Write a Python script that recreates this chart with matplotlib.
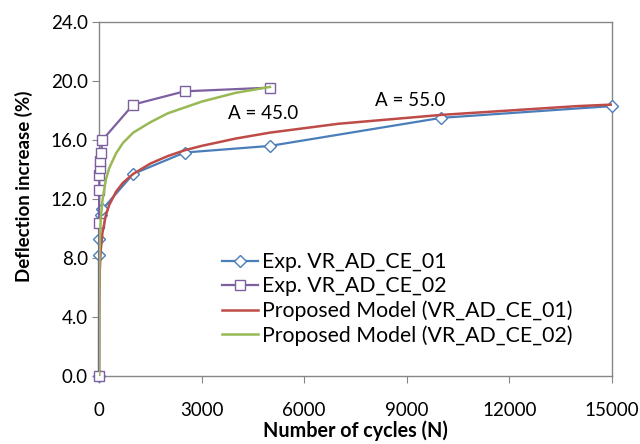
import matplotlib
matplotlib.use("Agg")
import matplotlib.pyplot as plt

# Experimental data
n_exp1 = [0, 1, 10, 50, 100, 1000, 2500, 5000, 10000, 15000]
d_exp1 = [0.0, 8.2, 9.3, 10.9, 11.3, 13.7, 15.15, 15.6, 17.5, 18.3]

n_exp2 = [0, 1, 5, 10, 20, 40, 60, 100, 1000, 2500, 5000]
d_exp2 = [0.0, 10.4, 12.6, 13.6, 14.1, 14.6, 15.1, 16.0, 18.4, 19.3, 19.55]

# Proposed model curves
n_mod1 = [0, 3, 10, 25, 50, 100, 200, 300, 500, 700, 1000, 1500, 2000, 2500, 3000,
          4000, 5000, 6000, 7000, 8000, 9000, 10000, 11000, 12000, 13000, 14000, 15000]
d_mod1 = [0.0, 3.6, 5.7, 7.3, 8.5, 9.7, 10.9, 11.6, 12.5, 13.1, 13.7, 14.4, 14.9, 15.3, 15.6,
          16.1, 16.5, 16.8, 17.1, 17.3, 17.5, 17.7, 17.85, 18.0, 18.15, 18.3, 18.4]

n_mod2 = [0, 3, 10, 25, 50, 100, 200, 300, 500, 700, 1000, 1500, 2000, 2500, 3000,
          3500, 4000, 4500, 5000]
d_mod2 = [0.0, 5.0, 7.4, 9.2, 10.6, 11.9, 13.3, 14.1, 15.1, 15.8, 16.5, 17.2, 17.8, 18.2, 18.6,
          18.9, 19.2, 19.4, 19.6]

labels = ["Exp. VR_AD_CE_01", "Exp. VR_AD_CE_02",
          "Proposed Model (VR_AD_CE_01)", "Proposed Model (VR_AD_CE_02)"]
x_ticks = [0, 3000, 6000, 9000, 12000, 15000]
y_ticks = [0, 4, 8, 12, 16, 20, 24]

plt.rcParams['font.family'] = ['Lato', 'DejaVu Sans']

fig = plt.figure(figsize=(6.4, 4.44), dpi=100)
ax = fig.add_axes([99/640, 1-376/444, (612-99)/640, (376-22)/444])

blue = '#4A7EBB'
purple = '#7D60A0'
red = '#BE4B48'
green = '#98B954'

ax.plot(n_exp1, d_exp1, color=blue, lw=1.6, marker='D', ms=6.5, mfc='white',
        mec=blue, mew=1.0, label=labels[0], zorder=3, clip_on=False)
ax.plot(n_exp2, d_exp2, color=purple, lw=1.6, marker='s', ms=7, mfc='white',
        mec=purple, mew=1.0, label=labels[1], zorder=3, clip_on=False)
ax.plot(n_mod1, d_mod1, color=red, lw=1.8, label=labels[2], zorder=4)
ax.plot(n_mod2, d_mod2, color=green, lw=1.8, label=labels[3], zorder=4)

ax.set_xlim(0, 15000)
ax.set_ylim(0, 24)
ax.set_xticks(x_ticks)
ax.set_yticks(y_ticks)
ax.set_yticklabels([f"{v:.1f}" for v in y_ticks])
ax.set_xticklabels([str(v) for v in x_ticks])
ax.tick_params(axis='both', direction='out', length=5, color='#868686',
               labelsize=13.5)
ax.tick_params(axis='x', pad=14)
ax.tick_params(axis='y', pad=3)
for s in ax.spines.values():
    s.set_color('#868686')
    s.set_linewidth(1.0)

ax.set_xlabel("Number of cycles (N)", fontsize=14.2, fontweight='bold', labelpad=1)
ax.set_ylabel("Deflection increase (%)", fontsize=13.5, fontweight='bold')
ax.yaxis.set_label_coords(-0.129, 0.537)

ax.text(3786, 17.8, "A = 45.0", fontsize=13.5, va='center', ha='left')
ax.text(8071, 18.7, "A = 55.0", fontsize=13.5, va='center', ha='left')

leg = ax.legend(loc='lower left', bbox_to_anchor=(0.24, 0.085), frameon=False,
                fontsize=15.3, handlelength=1.7, handletextpad=0.2,
                labelspacing=0.2, borderaxespad=0, borderpad=0)

fig.savefig("out.png", dpi=100)
